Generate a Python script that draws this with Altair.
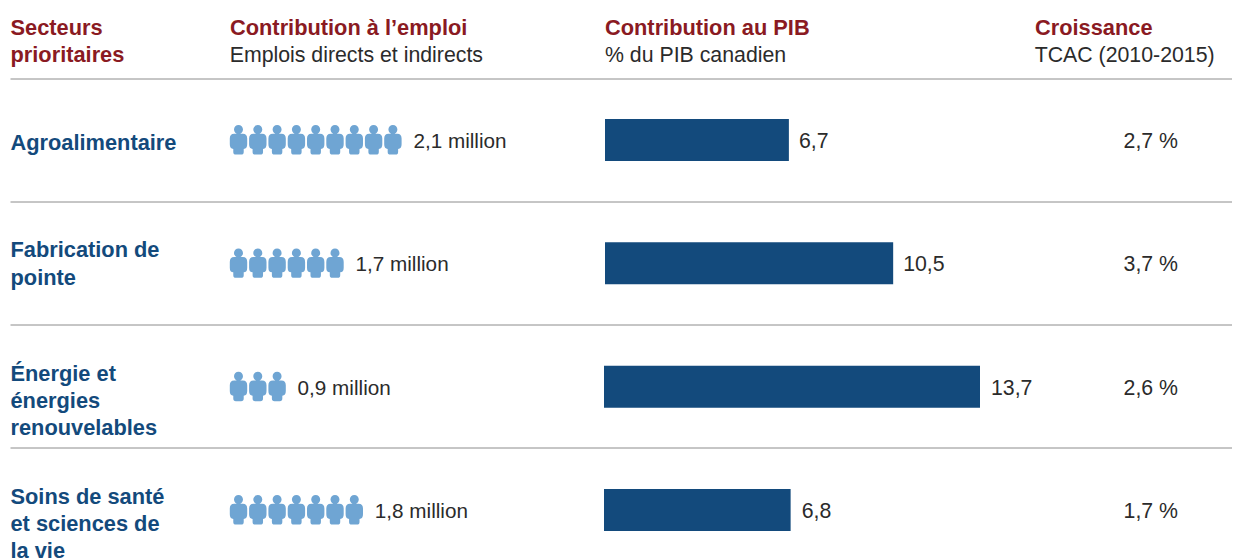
import altair as alt
import pandas as pd

sectors = ["Agroalimentaire", "Fabrication de\npointe", "Énergie et\nénergies\nrenouvelables", "Soins de santé\net sciences de\nla vie"]
icons = [9, 6, 3, 7]
jobs = ["2,1 million", "1,7 million", "0,9 million", "1,8 million"]
pib = [6.7, 10.5, 13.7, 6.8]
pib_labels = ["6,7", "10,5", "13,7", "6,8"]
growth = ["2,7 %", "3,7 %", "2,6 %", "1,7 %"]
rows = ["A", "B", "C", "D"]

RED = "#8a1a22"
BLUE = "#134a7c"
ICON = "#6fa5d3"
INK = "#2b2b2b"
FONT = "Liberation Sans"
BOLD = 21.8
REG = 21.3
VAL = 20.7
PERSON = ("M-.31,-.72A.31,.31 0 1 1 .31,-.72A.31,.31 0 1 1 -.31,-.72Z"
          "M-.6,-.1Q-.6,-.43 -.3,-.43L.3,-.43Q.6,-.43 .6,-.1L.6,.3Q.6,.62 .36,.62"
          "L.36,.82Q.36,1 .18,1L-.18,1Q-.36,1 -.36,.82L-.36,.62Q-.6,.62 -.6,.3Z")

df = pd.DataFrame(dict(row=rows, sector=sectors, icons=icons, jobs=jobs, pib=pib, pib_label=pib_labels, growth=growth))
people = pd.DataFrame([{"row": r, "i": i} for r, n in zip(rows, icons) for i in range(n)])

Y = alt.Y("row:N", axis=None, scale=alt.Scale(type="point", domain=rows, range=[132, 502], padding=0))
XP = alt.X("pib:Q", axis=None, scale=alt.Scale(domain=[0, 13.7], range=[596, 972]))
XI = alt.Scale(domain=[0, 9], range=[230.5, 404.2])

layers = []

def head(txt, x, y, bold=True):
    return alt.Chart(pd.DataFrame({"t": [txt]})).mark_text(
        align="left", baseline="alphabetic", font=FONT, fontSize=BOLD if bold else REG,
        fontWeight="bold" if bold else "normal", color=RED if bold else INK
    ).encode(text="t:N", x=alt.value(x), y=alt.value(y))

layers += [head("Secteurs", 2.5, 27), head("prioritaires", 2.5, 54),
           head("Contribution à l’emploi", 222, 27), head("Emplois directs et indirects", 221.7, 54, False),
           head("Contribution au PIB", 597, 27), head("% du PIB canadien", 597, 54, False),
           head("Croissance", 1027, 27), head("TCAC (2010-2015)", 1026.7, 54, False)]

rules = pd.DataFrame({"r": [71, 194, 317, 440]})
layers.append(alt.Chart(rules).mark_rule(color="#8c8c8c", strokeWidth=1).encode(
    y=alt.Y("r:Q", axis=None, scale=alt.Scale(domain=[0, 551], range=[0, 551])),
    x=alt.value(2.5), x2=alt.value(1224)))

for r, d in zip(rows, [2.5, -13, -13, -13]):
    layers.append(alt.Chart(df[df.row == r]).mark_text(
        align="left", baseline="middle", font=FONT, fontSize=BOLD, fontWeight="bold",
        color=BLUE, lineBreak="\n", lineHeight=27.2, dy=d
    ).encode(text="sector:N", x=alt.value(2.5), y=Y))

layers.append(alt.Chart(people).mark_point(shape=PERSON, filled=True, opacity=1, color=ICON, size=841, strokeWidth=0).encode(
    x=alt.X("i:Q", axis=None, scale=XI), y=Y))
layers.append(alt.Chart(df).mark_text(align="left", baseline="middle", font=FONT, fontSize=VAL, color=INK, dx=1.2, dy=2).encode(
    x=alt.X("icons:Q", axis=None, scale=XI), y=Y, text="jobs:N"))
layers.append(alt.Chart(df[df.row.isin(["A", "B"])]).mark_bar(color=BLUE, size=42, xOffset=1).encode(x=XP, y=Y))
layers.append(alt.Chart(df[df.row.isin(["C", "D"])]).mark_bar(color=BLUE, size=42).encode(x=XP, y=Y))
layers.append(alt.Chart(df).mark_text(align="left", baseline="middle", font=FONT, fontSize=REG, color=INK, dx=11, dy=2).encode(
    x=XP, y=Y, text="pib_label:N"))
layers.append(alt.Chart(df).mark_text(align="right", baseline="middle", font=FONT, fontSize=REG, color=INK, dy=2).encode(
    x=alt.value(1170), y=Y, text="growth:N"))

chart = alt.layer(*layers).resolve_scale(x="independent", y="independent").properties(
    width=1224, height=551, padding=0, autosize=alt.AutoSizeParams(type="none"), background="white"
).configure_view(stroke=None)

chart.save("out.html", embed_options={"renderer": "svg", "actions": False})
